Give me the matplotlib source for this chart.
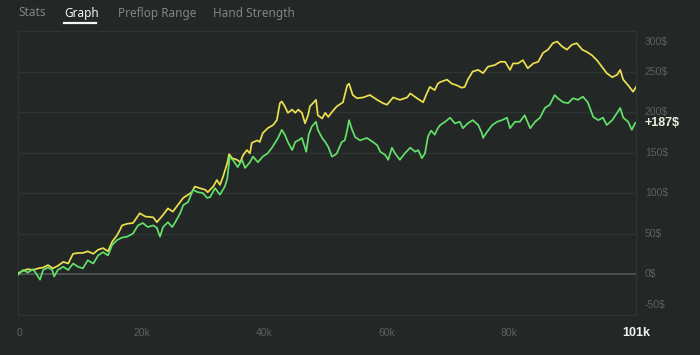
import matplotlib
matplotlib.use("Agg")
import matplotlib.pyplot as plt
from matplotlib.transforms import blended_transform_factory

# winnings graph, hands in thousands vs dollars
yellow_hands = [0, 0.8, 1.6, 2.5, 3.3, 4.1, 4.9, 5.7, 6.5, 7.4, 8.2, 9.0, 9.8,
                10.6, 11.4, 12.3, 13.1, 13.9, 14.7, 15.4, 16.2, 16.7, 17.0,
                17.8, 18.8, 19.9, 20.8, 22.1, 22.7, 23.7, 24.5, 25.3, 26.1,
                27.0, 27.8, 28.4, 28.9, 29.7, 30.6, 31.0, 31.9, 32.5, 33.0,
                33.5, 34.2, 34.5, 35.0, 35.8, 36.3, 36.8, 37.4, 37.9, 38.2,
                39.1, 39.5, 40.0, 40.8, 41.7, 42.3, 42.8, 43.1, 43.6, 44.1,
                44.8, 45.3, 45.8, 46.4, 46.9, 47.4, 47.7, 48.2, 48.7, 49.0,
                49.7, 50.2, 50.7, 51.3, 52.1, 53.1, 53.8, 54.1, 54.7, 55.4,
                56.4, 57.5, 58.7, 59.6, 60.3, 61.3, 62.4, 63.6, 64.1, 65.2,
                66.2, 66.8, 67.3, 68.1, 68.6, 69.0, 70.1, 70.9, 71.7, 72.5,
                73.0, 73.5, 74.3, 75.2, 76.0, 76.8, 77.9, 78.8, 79.6, 80.4,
                80.9, 81.7, 82.5, 83.3, 84.2, 85.0, 85.8, 86.6, 87.4, 88.1,
                88.9, 89.7, 90.5, 91.3, 92.2, 93.0, 93.8, 94.6, 95.4, 96.2,
                97.1, 97.9, 98.4, 98.9, 99.7, 100.5, 101.0]
yellow_usd = [1, 4, 6, 5, 7, 8, 11, 7, 10, 15, 13, 25, 26,
              26, 28, 25, 30, 32, 28, 40, 48, 55, 60,
              62, 63, 75, 71, 70, 64, 73, 81, 77, 85,
              94, 98, 101, 108, 106, 104, 101, 108, 116, 110,
              120, 137, 148, 143, 141, 138, 147, 153, 149, 162,
              165, 163, 174, 180, 184, 190, 211, 213, 207, 199,
              203, 199, 203, 199, 186, 196, 207, 211, 215, 196,
              192, 199, 194, 200, 207, 212, 233, 235, 221, 217,
              218, 221, 215, 211, 209, 218, 215, 218, 223, 217,
              212, 223, 231, 227, 235, 237, 240, 235, 233, 230,
              231, 240, 250, 252, 248, 256, 258, 262, 262, 252,
              260, 260, 264, 254, 260, 262, 273, 277, 285, 287,
              281, 277, 283, 285, 277, 274, 270, 264, 256, 248,
              243, 246, 252, 240, 233, 225, 231]

green_hands = [0, 0.8, 1.6, 2.5, 3.1, 3.6, 4.1, 4.9, 5.6, 5.9, 6.5, 7.4, 8.2,
               9.0, 9.8, 10.6, 11.4, 12.3, 13.1, 13.9, 14.7, 15.4, 16.2,
               17.0, 17.8, 18.8, 19.6, 20.4, 21.2, 22.1, 22.7, 23.2, 23.7,
               24.5, 25.2, 25.7, 26.5, 27.0, 27.8, 28.6, 29.4, 30.2, 30.9,
               31.4, 32.2, 33.0, 33.8, 34.2, 34.6, 35.1, 35.9, 36.6, 37.1,
               37.9, 38.4, 39.2, 40.0, 40.8, 41.5, 42.0, 42.5, 43.1, 43.6,
               44.1, 44.8, 45.3, 45.8, 46.4, 47.1, 47.5, 48.0, 48.7, 49.0,
               49.7, 50.2, 50.7, 51.3, 51.8, 52.1, 52.9, 53.4, 53.8, 54.1,
               54.6, 55.1, 55.9, 57.0, 58.0, 58.7, 59.2, 60.0, 60.5, 61.1,
               61.6, 62.4, 63.2, 64.1, 64.9, 65.4, 66.0, 66.5, 67.0, 67.5,
               68.1, 68.6, 69.0, 69.8, 70.6, 71.4, 72.2, 72.7, 73.5, 74.3,
               75.2, 75.8, 76.0, 76.6, 77.5, 78.3, 79.1, 79.9, 80.4, 81.2,
               82.0, 82.8, 83.7, 84.5, 85.3, 86.1, 86.9, 87.7, 88.2, 89.1,
               89.9, 90.7, 91.5, 92.3, 93.1, 94.0, 94.8, 95.6, 96.2, 97.1,
               97.9, 98.4, 98.9, 99.7, 100.3, 100.8, 101.0]
green_usd = [-1, 5, 2, 6, -1, -7, 5, 8, 5, -3, 5, 9, 5,
             13, 9, 7, 17, 13, 23, 27, 23, 36, 42,
             45, 46, 50, 60, 63, 58, 60, 57, 46, 58,
             64, 58, 64, 75, 85, 89, 104, 101, 100, 94,
             95, 106, 98, 108, 118, 145, 141, 132, 141, 131,
             138, 145, 138, 145, 149, 156, 162, 168, 178, 172,
             163, 153, 163, 165, 168, 151, 172, 182, 188, 178,
             168, 163, 157, 145, 147, 149, 163, 165, 178, 190,
             178, 169, 165, 168, 163, 159, 151, 147, 141, 156,
             149, 141, 149, 156, 151, 153, 143, 149, 170, 177,
             172, 180, 184, 188, 193, 186, 188, 180, 186, 190,
             184, 174, 168, 175, 184, 188, 190, 193, 180, 188,
             188, 196, 180, 188, 193, 205, 209, 221, 217, 212,
             211, 217, 215, 219, 212, 194, 190, 193, 184, 190,
             199, 205, 193, 188, 178, 186, 187]

y_ticks = [-50, 0, 50, 100, 150, 200, 250, 300]
x_ticks = [0, 20, 40, 60, 80]
tabs = ["Stats", "Graph", "Preflop Range", "Hand Strength"]
final_label = "+187$"

bg = "#232826"
grid_col = "#2e3431"
tick_col = "#5b615e"

fig = plt.figure(figsize=(7, 3.55), dpi=100, facecolor=bg)
ax = fig.add_axes([0.0257, 0.114, 0.883, 0.7986], facecolor=bg)

for v in y_ticks[1:-1]:
    if v == 0:
        continue
    ax.axhline(v, color=grid_col, lw=1.0, zorder=1)
ax.axhline(0, color="#4d5350", lw=1.4, zorder=1)

ax.plot(yellow_hands, yellow_usd, color="#ede050", lw=1.25, zorder=3)
ax.plot(green_hands, green_usd, color="#63e06a", lw=1.25, zorder=4)

ax.set_xlim(0, 101)
ax.set_ylim(-50, 300)
ax.set_xticks([])
ax.set_yticks([])
for s in ax.spines.values():
    s.set_color("#2d3330")
    s.set_linewidth(1.0)

tr = blended_transform_factory(ax.transAxes, ax.transData)
for v in y_ticks:
    va = "center"
    dy = 0
    if v == 300:
        va, dy = "top", -4
    if v == -50:
        va, dy = "bottom", 3
    ax.annotate(f"{v}$", (1.014, v), xycoords=tr, xytext=(0, dy),
                textcoords="offset points", va=va, ha="left",
                color=tick_col, fontsize=7.5, family="Liberation Sans")
ax.annotate(final_label, (1.014, green_usd[-1]), xycoords=tr,
            va="center", ha="left", color="#e8f0df", fontsize=9,
            fontweight="bold", family="Liberation Sans")

trx = blended_transform_factory(ax.transData, ax.transAxes)
for k in x_ticks:
    lab = "0" if k == 0 else f"{k}k"
    ax.text(k + 0.3, -0.065, lab, transform=trx, ha="center", va="center",
            color=tick_col, fontsize=7.5, family="Liberation Sans")
ax.text(101, -0.065, "101k", transform=trx, ha="center", va="center",
        color="#f2f4f2", fontsize=9, fontweight="bold",
        family="Liberation Sans")

# tab bar along the top
tab_x = [18, 64, 118, 213]
for name, px in zip(tabs, tab_x):
    active = name == "Graph"
    fig.text(px / 700, 1 - 13 / 355, name, ha="left", va="center",
             color="#f4f6f4" if active else "#7f8582", fontsize=8.5,
             fontweight="bold" if active else "normal", family="Noto Sans")
fig.add_artist(plt.Line2D([64 / 700, 96 / 700], [1 - 23 / 355, 1 - 23 / 355],
                          color="#f4f6f4", lw=1.6))

fig.savefig("out.png", dpi=100, facecolor=bg)
